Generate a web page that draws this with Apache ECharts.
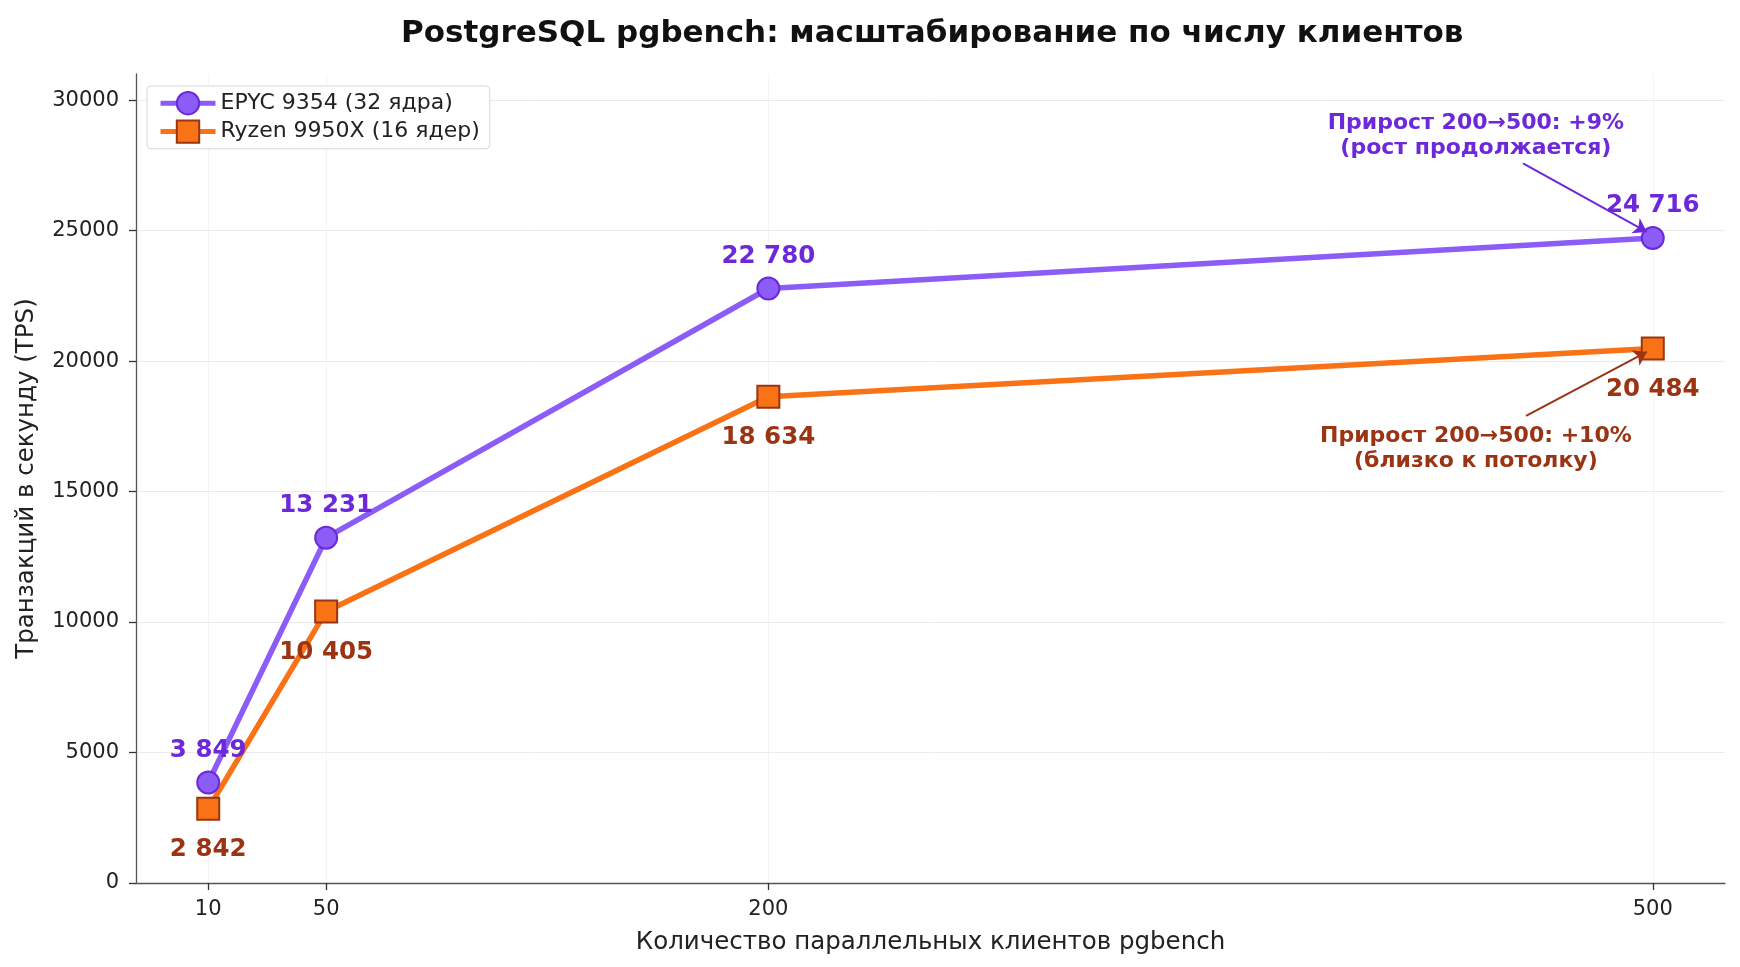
<!DOCTYPE html>
<html>
<head>
<meta charset="utf-8">
<script src="https://cdn.jsdelivr.net/npm/echarts@6/dist/echarts.min.js"></script>
<style>
  html, body { margin: 0; padding: 0; background: #fff; }
  #chart { width: 1740px; height: 967px; }
</style>
</head>
<body>
<div id="chart"></div>
<script>
const clients = [10, 50, 200, 500];
const epyc = [3849, 13231, 22780, 24716];
const ryzen = [2842, 10405, 18634, 20484];
const yTicks = [0, 5000, 10000, 15000, 20000, 25000, 30000];
const seriesNames = ['EPYC 9354 (32 ядра)', 'Ryzen 9950X (16 ядер)'];
const noteEpyc = 'Прирост 200→500: +9%\n(рост продолжается)';
const noteRyzen = 'Прирост 200→500: +10%\n(близко к потолку)';

const FONT = 'DejaVu Sans';
const fmt = v => String(v).replace(/\B(?=(\d{3})+(?!\d))/g, ' ');

var myChart = echarts.init(document.getElementById('chart'), null, { renderer: 'canvas' });

// faint grid drawn as mark lines so that no line sits on the top edge
var gridLines = clients.map(c => ({ xAxis: c, lineStyle: { color: '#f4f4f4' } }))
    .concat(yTicks.slice(1).map(t => ({ yAxis: t, lineStyle: { color: '#ebebeb' } })));

var option = {
    backgroundColor: '#fff',
    animation: false,
    textStyle: { fontFamily: FONT },
    title: {
        text: 'PostgreSQL pgbench: масштабирование по числу клиентов',
        left: 396,
        top: 13,
        textStyle: { fontFamily: FONT, fontSize: 31, fontWeight: 'bold', color: '#111' }
    },
    grid: { left: 136, right: 15, top: 74, bottom: 84 },
    legend: {
        orient: 'vertical',
        left: 147,
        top: 86,
        z: 20,
        padding: [5, 10, 5, 11],
        itemGap: 4,
        itemWidth: 55,
        itemHeight: 28,
        borderColor: '#d6d6d6',
        borderWidth: 1,
        borderRadius: 4,
        backgroundColor: '#fff',
        lineStyle: { width: 5 },
        textStyle: { fontFamily: FONT, fontSize: 22, color: '#222' },
        data: seriesNames
    },
    xAxis: {
        type: 'value',
        min: -14.5,
        max: 524.5,
        name: 'Количество параллельных клиентов pgbench',
        nameLocation: 'middle',
        nameGap: 47,
        nameTextStyle: { fontFamily: FONT, fontSize: 24.5, color: '#222' },
        axisLine: { lineStyle: { color: '#555', width: 1.3 } },
        axisTick: { customValues: clients, length: 7, lineStyle: { color: '#333', width: 1.3 } },
        axisLabel: { customValues: clients, margin: 16, fontFamily: FONT, fontSize: 21, color: '#222' },
        splitLine: { show: false }
    },
    yAxis: {
        type: 'value',
        min: 0,
        max: 31000,
        name: 'Транзакций в секунду (TPS)',
        nameLocation: 'middle',
        nameGap: 97,
        nameTextStyle: { fontFamily: FONT, fontSize: 24.5, color: '#222' },
        axisLine: { show: true, onZero: false, lineStyle: { color: '#555', width: 1.3 } },
        axisTick: { show: true, customValues: yTicks, length: 7, lineStyle: { color: '#333', width: 1.3 } },
        axisLabel: { customValues: yTicks, margin: 17, formatter: v => String(v), fontFamily: FONT, fontSize: 21, color: '#222' },
        splitLine: { show: false }
    },
    series: [
        {
            name: 'grid',
            type: 'line',
            data: [],
            silent: true,
            z: 0,
            markLine: {
                silent: true,
                z: 0,
                symbol: 'none',
                label: { show: false },
                lineStyle: { type: 'solid', width: 1 },
                data: gridLines
            }
        },
        {
            name: seriesNames[0],
            type: 'line',
            data: clients.map((c, i) => [c, epyc[i]]),
            symbol: 'circle',
            symbolSize: 22,
            lineStyle: { color: '#8b5cf6', width: 5.5 },
            itemStyle: { color: '#8b5cf6', borderColor: '#6d28d9', borderWidth: 2 },
            label: {
                show: true,
                position: 'inside',
                offset: [0, -32],
                formatter: p => fmt(p.value[1]),
                textBorderWidth: 0,
                textBorderColor: 'transparent',
                fontFamily: FONT, fontSize: 24.5, fontWeight: 'bold', color: '#6d28d9'
            },
            markLine: {
                silent: true,
                symbol: ['none', 'arrow'],
                symbolSize: 13,
                label: { show: false },
                lineStyle: { color: '#6d28d9', width: 2, type: 'solid' },
                data: [[{ coord: [456, 27580] }, { coord: [498, 24950] }]]
            },
            markPoint: {
                silent: true,
                symbol: 'circle',
                symbolSize: 0,
                label: {
                    show: true,
                    formatter: noteEpyc,
                    textBorderWidth: 0,
                    fontFamily: FONT, fontSize: 22, fontWeight: 'bold', color: '#6d28d9',
                    align: 'center', lineHeight: 25
                },
                data: [{ coord: [440, 28650] }]
            }
        },
        {
            name: seriesNames[1],
            type: 'line',
            data: clients.map((c, i) => [c, ryzen[i]]),
            symbol: 'rect',
            symbolSize: 22,
            lineStyle: { color: '#f97316', width: 5.5 },
            itemStyle: { color: '#f97316', borderColor: '#9a3412', borderWidth: 2 },
            label: {
                show: true,
                position: 'inside',
                offset: [0, 41],
                formatter: p => fmt(p.value[1]),
                textBorderWidth: 0,
                textBorderColor: 'transparent',
                fontFamily: FONT, fontSize: 24.5, fontWeight: 'bold', color: '#9a3412'
            },
            markLine: {
                silent: true,
                symbol: ['none', 'arrow'],
                symbolSize: 13,
                label: { show: false },
                lineStyle: { color: '#9a3412', width: 2, type: 'solid' },
                data: [[{ coord: [457, 17900] }, { coord: [498, 20350] }]]
            },
            markPoint: {
                silent: true,
                symbol: 'circle',
                symbolSize: 0,
                label: {
                    show: true,
                    formatter: noteRyzen,
                    textBorderWidth: 0,
                    fontFamily: FONT, fontSize: 22, fontWeight: 'bold', color: '#9a3412',
                    align: 'center', lineHeight: 25
                },
                data: [{ coord: [440, 16650] }]
            }
        }
    ]
};

if (option && typeof option === 'object') {
    myChart.setOption(option);
}

window.addEventListener('resize', myChart.resize);
</script>
</body>
</html>
